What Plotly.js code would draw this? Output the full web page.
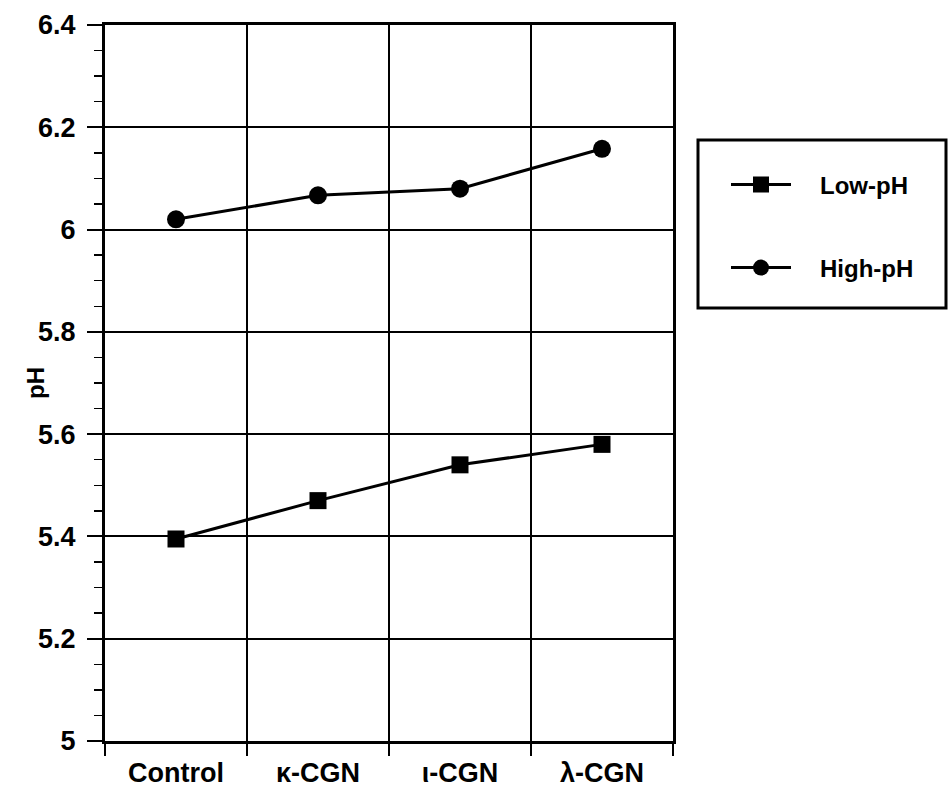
<!DOCTYPE html>
<html><head><meta charset="utf-8">
<script src="https://cdn.plot.ly/plotly-3.0.1.min.js"></script>
<style>html,body{margin:0;padding:0;background:#fff}</style>
</head><body><div id="chart" style="width:948px;height:795px"></div>
<script>
const categories = ["Control", "\u03ba-CGN", "\u03b9-CGN", "\u03bb-CGN"];
const lowPH = [5.395, 5.47, 5.54, 5.58];
const highPH = [6.02, 6.067, 6.08, 6.158];
const seriesNames = ["Low-pH", "High-pH"];
const yTickVals = [5, 5.2, 5.4, 5.6, 5.8, 6, 6.2, 6.4];
const yTickText = ["5", "5.2", "5.4", "5.6", "5.8", "6", "6.2", "6.4"];
const yTitle = "pH";

const FONT = "Liberation Sans, Arial, Helvetica, sans-serif";
const PAD = "\u2003";
const traces = [
  {x: categories, y: lowPH, name: PAD + seriesNames[0], type: "scatter", mode: "lines+markers",
   line: {color: "#000", width: 3}, marker: {symbol: "square", size: 17, color: "#000"}, legend: "legend"},
  {x: categories, y: highPH, name: PAD + seriesNames[1], type: "scatter", mode: "lines+markers",
   line: {color: "#000", width: 3}, marker: {symbol: "circle", size: 18, color: "#000"}, legend: "legend2"}
];
const legFont = {family: FONT, size: 24, color: "#000", weight: "bold"};
const layout = {
  width: 948, height: 795,
  margin: {l: 105, r: 275, t: 25, b: 54},
  paper_bgcolor: "#fff", plot_bgcolor: "#fff",
  font: {family: FONT, color: "#000", weight: "bold"},
  showlegend: true,
  xaxis: {type: "category", range: [-0.5, 3.5], tickson: "boundaries",
    showgrid: true, gridcolor: "#000", gridwidth: 2,
    showline: true, mirror: true, linecolor: "#000", linewidth: 3,
    ticks: "outside", ticklen: 12, tickwidth: 2, tickcolor: "#000",
    tickfont: {family: FONT, size: 27, color: "#000", weight: "bold"}, ticklabelstandoff: 6},
  yaxis: {range: [5, 6.4], tickvals: yTickVals, ticktext: yTickText,
    showgrid: true, gridcolor: "#000", gridwidth: 2, zeroline: false,
    showline: true, mirror: true, linecolor: "#000", linewidth: 3,
    ticks: "outside", ticklen: 15, tickwidth: 2, tickcolor: "#000",
    minor: {dtick: 0.05, ticks: "outside", ticklen: 8, tickwidth: 1.5, tickcolor: "#000", showgrid: false},
    tickfont: {family: FONT, size: 27, color: "#000", weight: "bold"}, ticklabelstandoff: 6},
  annotations: [{text: yTitle, xref: "paper", yref: "paper", x: (35-105)/568, y: 0.5,
    xanchor: "center", yanchor: "middle", textangle: -90, showarrow: false,
    font: {family: FONT, size: 24, color: "#000", weight: "bold"}}],
  legend: {xref: "container", yref: "container", x: 726/948, xanchor: "left", y: 1 - 185/795, yanchor: "middle",
    bgcolor: "rgba(0,0,0,0)", borderwidth: 0, font: legFont, itemwidth: 60},
  legend2: {xref: "container", yref: "container", x: 726/948, xanchor: "left", y: 1 - 268/795, yanchor: "middle",
    bgcolor: "rgba(0,0,0,0)", borderwidth: 0, font: legFont, itemwidth: 60},
  shapes: [{type: "rect", xref: "paper", yref: "paper", x0: (698-105)/568, x1: (946-105)/568,
    y0: (741-308)/716, y1: (741-140)/716, line: {color: "#000", width: 3}, fillcolor: "rgba(0,0,0,0)"}]
};
Plotly.newPlot("chart", traces, layout, {displayModeBar: false, staticPlot: true});
</script></body></html>
